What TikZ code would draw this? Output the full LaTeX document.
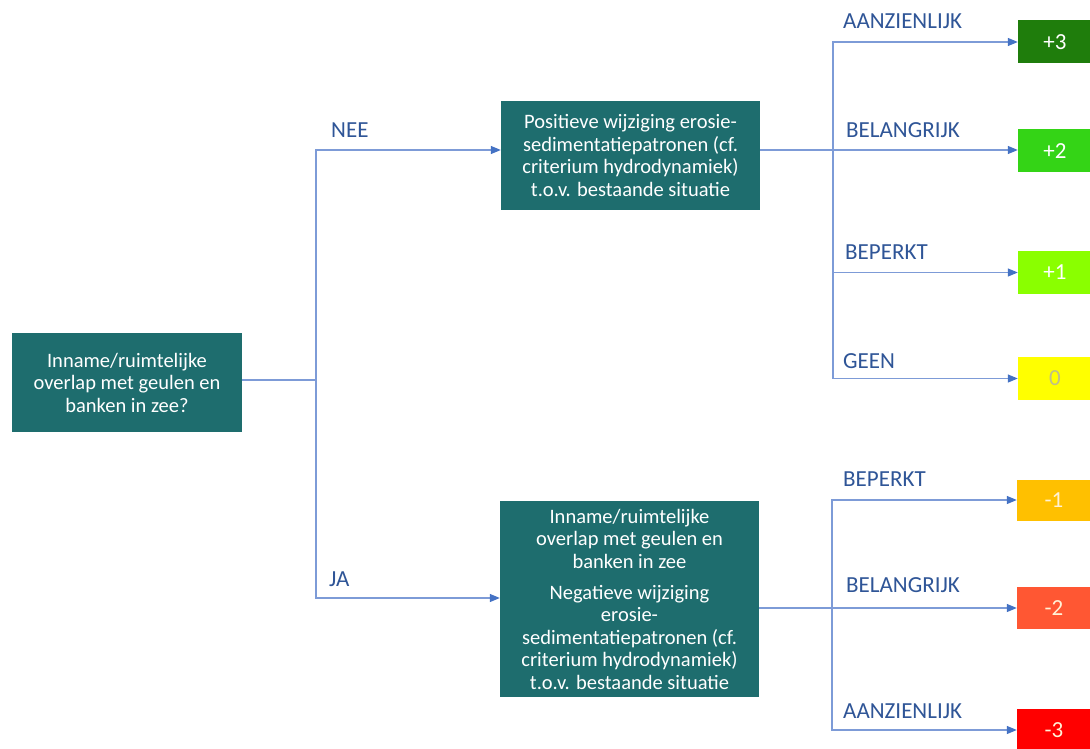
\documentclass[tikz,border=0pt]{standalone}
\usepackage{fontspec}
\setmainfont{Carlito}
\usetikzlibrary{arrows.meta}
\definecolor{teal1}{RGB}{30,109,110}
\definecolor{linec}{RGB}{125,155,215}
\definecolor{arrc}{RGB}{68,114,196}
\definecolor{labc}{RGB}{47,85,151}
\definecolor{cp3}{RGB}{31,125,12}
\definecolor{cp2}{RGB}{52,212,22}
\definecolor{cp1}{RGB}{138,255,0}
\definecolor{cz}{RGB}{255,255,0}
\definecolor{czt}{RGB}{190,190,140}
\definecolor{cm1}{RGB}{255,192,0}
\definecolor{cm2}{RGB}{255,87,51}
\definecolor{cm3}{RGB}{255,0,0}
\definecolor{lightt}{RGB}{255,242,215}
\tikzset{
  qbox/.style={fill=teal1, text=white, inner sep=0pt, align=center,
    font=\fontsize{20.5}{22.5}\selectfont},
  resbox/.style={minimum width=74pt, inner sep=0pt, font=\fontsize{23}{26}\selectfont},
  lab/.style={anchor=base west, inner sep=0pt, text=labc, font=\fontsize{23}{26}\selectfont},
  conn/.style={draw=linec, line width=1.2pt},
  arr/.style={conn, -{Triangle[length=10pt,width=8pt,color=arrc]}}
}
\begin{document}
\begin{tikzpicture}[x=1pt,y=-1pt]
\useasboundingbox[fill=white] (0,0) rectangle (1090,749);
% decision boxes
\node[qbox, minimum width=230pt, minimum height=99pt] (q) at (127,382.5)
  {Inname/ruimtelijke\\overlap met geulen en\\banken in zee?};
\node[qbox, minimum width=259pt, minimum height=109pt] (pos) at (630.5,155.5)
  {Positieve wijziging erosie-\\sedimentatiepatronen (cf.\\criterium hydrodynamiek)\\t.o.v. bestaande situatie};
\node[qbox, minimum width=259pt, minimum height=196pt] (neg) at (629.5,599)
  {Inname/ruimtelijke\\overlap met geulen en\\banken in zee\\[8.5pt]Negatieve wijziging\\erosie-\\sedimentatiepatronen (cf.\\criterium hydrodynamiek)\\t.o.v. bestaande situatie};
% result boxes
\node[resbox, fill=cp3, text=white, minimum height=43pt] (r3) at (1055,42) {+3};
\node[resbox, fill=cp2, text=white, minimum height=43pt] (r2) at (1055,151) {+2};
\node[resbox, fill=cp1, text=white, minimum height=43pt] (r1) at (1055,272.5) {+1};
\node[resbox, fill=cz, text=czt, minimum height=43pt] (r0) at (1055,378.5) {0};
\node[resbox, fill=cm1, text=lightt, minimum height=41pt] (rm1) at (1054,500) {-1};
\node[resbox, fill=cm2, text=lightt, minimum height=42pt] (rm2) at (1054,608) {-2};
\node[resbox, fill=cm3, text=lightt, minimum height=42pt] (rm3) at (1054,730) {-3};
% junctions
\coordinate (j1) at (316,380);
\coordinate (c1) at (316,150);
\coordinate (c2) at (316,598);
\coordinate (j2) at (833,150);
\coordinate (j3) at (832,608);
% connectors
\draw[conn] (j1 -| q.east) -- (j1);
\draw[arr] (j1) -- (c1) -- (c1 -| pos.west);
\draw[arr] (j1) -- (c2) -- (c2 -| neg.west);
\draw[conn] (j2 -| pos.east) -- (j2);
\draw[arr] (j2) |- (r3.west);
\draw[arr] (j2) -- (j2 -| r2.west);
\draw[arr] (j2) |- (r1.west);
\draw[arr] (j2) |- (r0.west);
\draw[conn] (j3 -| neg.east) -- (j3);
\draw[arr] (j3) |- (rm1.west);
\draw[arr] (j3) -- (rm2.west);
\draw[arr] (j3) |- (rm3.west);
% labels
\node[lab] (lnee) at (331,138) {NEE};
\node[lab] (lja) at (329,586) {JA};
\node[lab] (l3) at (843,28.5) {AANZIENLIJK};
\node[lab] (l2) at (846,138) {BELANGRIJK};
\node[lab] (l1) at (845,259) {BEPERKT};
\node[lab] (l0) at (843,368) {GEEN};
\node[lab] (lm1) at (843,486) {BEPERKT};
\node[lab] (lm2) at (846,592) {BELANGRIJK};
\node[lab] (lm3) at (843,718) {AANZIENLIJK};
\end{tikzpicture}
\end{document}
